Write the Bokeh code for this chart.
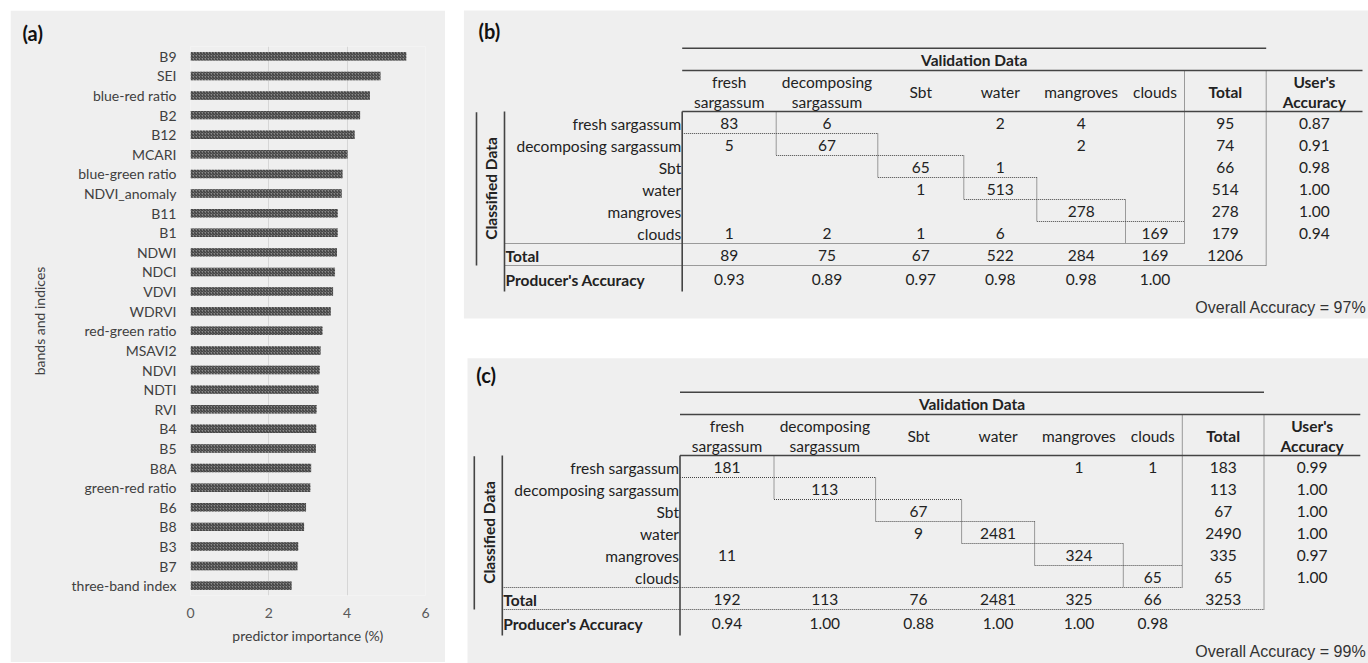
from math import pi
from bokeh.plotting import figure
from bokeh.models import FactorRange, Range1d, FixedTicker, Spacer
from bokeh.layouts import row, column
from bokeh.core.properties import value
from bokeh.embed import file_html
from bokeh.resources import INLINE

# ---------------- data: panel (a) ----------------
features = ["B9", "SEI", "blue-red ratio", "B2", "B12", "MCARI", "blue-green ratio",
            "NDVI_anomaly", "B11", "B1", "NDWI", "NDCI", "VDVI", "WDRVI",
            "red-green ratio", "MSAVI2", "NDVI", "NDTI", "RVI", "B4", "B5", "B8A",
            "green-red ratio", "B6", "B8", "B3", "B7", "three-band index"]
importance = [5.51, 4.85, 4.58, 4.33, 4.19, 4.01, 3.88, 3.86, 3.76, 3.76, 3.74, 3.69,
              3.64, 3.58, 3.37, 3.32, 3.30, 3.27, 3.22, 3.21, 3.20, 3.08, 3.06, 2.95,
              2.90, 2.75, 2.73, 2.58]
x_ticks = [0, 2, 4, 6]

# ---------------- data: confusion matrices ----------------
classes = ["fresh sargassum", "decomposing sargassum", "Sbt", "water", "mangroves", "clouds"]
col_headers = ["fresh\nsargassum", "decomposing\nsargassum", "Sbt", "water", "mangroves", "clouds"]

b_counts = [[83, 6, None, 2, 4, None],
            [5, 67, None, None, 2, None],
            [None, None, 65, 1, None, None],
            [None, None, 1, 513, None, None],
            [None, None, None, None, 278, None],
            [1, 2, 1, 6, None, 169]]
b_row_totals = [95, 74, 66, 514, 278, 179]
b_col_totals = [89, 75, 67, 522, 284, 169, 1206]
b_users = [0.87, 0.91, 0.98, 1.00, 1.00, 0.94]
b_producers = [0.93, 0.89, 0.97, 0.98, 0.98, 1.00]
b_overall = 97

c_counts = [[181, None, None, None, 1, 1],
            [None, 113, None, None, None, None],
            [None, None, 67, None, None, None],
            [None, None, 9, 2481, None, None],
            [11, None, None, None, 324, None],
            [None, None, None, None, None, 65]]
c_row_totals = [183, 113, 67, 2490, 335, 65]
c_col_totals = [192, 113, 76, 2481, 325, 66, 3253]
c_users = [0.99, 1.00, 1.00, 1.00, 0.97, 1.00]
c_producers = [0.94, 1.00, 0.88, 1.00, 1.00, 0.98]
c_overall = 99

FONT = "Lato"
PANEL = "#efefef"
TXT = "#222222"

# ---------------- panel (a): bar chart ----------------
p1 = figure(width=435, height=652,
            y_range=FactorRange(factors=features[::-1]), x_range=Range1d(0, 6),
            output_backend="svg", toolbar_location=None,
            min_border_left=180, min_border_right=20, min_border_top=36, min_border_bottom=67,
            background_fill_color=PANEL, border_fill_color=PANEL, outline_line_color=None,
            title="(a)", frame_align=False)
p1.hbar(y=features, right=importance, left=0, height=0.43,
        fill_color="#8a8a8a", line_color=None,
        hatch_pattern="/", hatch_color="#333333", hatch_scale=3.0, hatch_weight=1.0)

p1.title.text_font = FONT
p1.title.text_font_size = "20px"
p1.title.text_font_style = "bold"
p1.title.text_color = "#111111"
p1.title.align = "left"
p1.title.offset = -168
p1.title.standoff = 4

p1.xaxis.ticker = FixedTicker(ticks=x_ticks)
p1.xgrid.grid_line_color = "#d6d6d6"
p1.ygrid.grid_line_color = None
for ax in (p1.xaxis, p1.yaxis):
    ax.axis_line_color = None
    ax.major_tick_line_color = None
    ax.minor_tick_line_color = None
    ax.major_tick_out = 0
    ax.major_tick_in = 0
    ax.major_label_text_font = FONT
    ax.major_label_text_font_size = "14px"
    ax.axis_label_text_font = FONT
    ax.axis_label_text_font_size = "14px"
    ax.axis_label_text_font_style = "normal"
    ax.axis_label_text_color = "#404040"
p1.xaxis.major_label_text_color = "#595959"
p1.yaxis.major_label_text_color = "#404040"
p1.xaxis.axis_label = "predictor importance (%)"
p1.yaxis.axis_label = "bands and indices"
p1.xaxis.major_label_standoff = 12
p1.xaxis.axis_label_standoff = 6
p1.yaxis.major_label_standoff = 14
p1.yaxis.axis_label_standoff = 21

# ---------------- panels (b), (c): confusion matrices ----------------
p2 = figure(width=905, height=663, x_range=Range1d(463, 1368), y_range=Range1d(663, 0),
            output_backend="svg", toolbar_location=None, min_border=0,
            x_axis_type=None, y_axis_type=None, outline_line_color=None,
            background_fill_color="white", border_fill_color="white", frame_align=False)

p2.quad(left=[463.3, 467], right=[1368, 1368], top=[10, 357.7], bottom=[318, 663],
        fill_color=PANEL, line_color=None)

COL_EDGES = [681.7, 775.7, 877.3, 963.3, 1036.3, 1125.0, 1184.0, 1265.7, 1362.0]
ROW_EDGES = [111, 133, 155, 177, 199, 221, 243, 265, 291]
FS = "15.5px"


def put(xs, ys, texts, size=FS, align="center", bold=False, angle=0.0,
        font=FONT, color=TXT):
    p2.text(x=xs, y=ys, text=texts, angle=angle, text_align=align, text_baseline="middle",
            text_font=value(font), text_font_size=size,
            text_font_style="bold" if bold else "normal", text_color=color)


def put_header(xs, labels, y_mid, bold=False):
    one_x, one_y, one_t = [], [], []
    for x, lab in zip(xs, labels):
        parts = lab.split("\n")
        if len(parts) == 1:
            one_x.append(x); one_y.append(y_mid); one_t.append(parts[0])
        else:
            one_x += [x, x]; one_y += [y_mid - 10, y_mid + 10]; one_t += parts
    put(one_x, one_y, one_t, bold=bold)


def solid(x0, y0, x1, y1):
    p2.segment(x0=x0, y0=y0, x1=x1, y1=y1, line_color="#444444", line_width=1.6)


def dotted(x0, y0, x1, y1):
    p2.segment(x0=x0, y0=y0, x1=x1, y1=y1, line_color="#444444", line_width=1,
               line_dash="1 1")


def draw_table(dx, dy, tag, counts, row_tot, col_tot, users, producers, overall):
    ce = [c + dx for c in COL_EDGES]
    re = [r + dy for r in ROW_EDGES]
    cx = [(ce[i] + ce[i + 1]) / 2 for i in range(8)]
    ry = [(re[i] + re[i + 1]) / 2 + 1 for i in range(8)]
    inner_x = 504 + dx
    outer_x = 476 + dx

    put([478 + dx], [30 + dy], [tag], size="20px", align="left", bold=True, color="#111111")

    # header rules
    solid([ce[0], ce[0], ce[0]], [47.7 + dy, 70 + dy, re[0]],
          [ce[7], ce[8], ce[8]], [47.7 + dy, 70 + dy, re[0]])
    put([(ce[0] + ce[7]) / 2], [59.5 + dy], ["Validation Data"], bold=True)

    # column headers
    put_header(cx[:6], col_headers, 91.7 + dy)
    put_header(cx[6:8], ["Total", "User's\nAccuracy"], 91.7 + dy, bold=True)

    # row labels
    put([ce[0] - 1] * 6, ry[:6], classes, align="right")
    put([inner_x + 1] * 2, ry[6:8], ["Total", "Producer's Accuracy"], align="left", bold=True)
    put([outer_x + 14.7], [(re[0] + re[7]) / 2], ["Classified Data"], bold=True, angle=pi / 2)

    # matrix cells
    xs, ys, ts = [], [], []
    for i, r in enumerate(counts):
        for j, v in enumerate(r):
            if v is not None:
                xs.append(cx[j]); ys.append(ry[i]); ts.append(str(v))
        xs.append(cx[6]); ys.append(ry[i]); ts.append(str(row_tot[i]))
        xs.append(cx[7]); ys.append(ry[i]); ts.append("%.2f" % users[i])
    for j, v in enumerate(col_tot):
        xs.append(cx[j]); ys.append(ry[6]); ts.append(str(v))
    for j, v in enumerate(producers):
        xs.append(cx[j]); ys.append(ry[7]); ts.append("%.2f" % v)
    put(xs, ys, ts)

    # solid verticals
    solid([ce[0], inner_x, outer_x], [re[0], re[0], re[0] + 0.7],
          [ce[0], inner_x, outer_x], [re[8], re[8], re[7]])

    # dotted frame lines
    dx0, dy0, dx1, dy1 = [], [], [], []
    for (a, b_, c, d) in [(ce[6], 70 + dy, ce[6], re[6]),
                          (ce[7], 70 + dy, ce[7], re[7]),
                          (inner_x, re[6], ce[6], re[6]),
                          (inner_x, re[7], ce[7], re[7])]:
        dx0.append(a); dy0.append(b_); dx1.append(c); dy1.append(d)
    # staircase around the diagonal cells
    for i in range(5):
        dx0.append(ce[i + 1]); dy0.append(re[i]); dx1.append(ce[i + 1]); dy1.append(re[i + 2])
        dx0.append(ce[i]); dy0.append(re[i + 1]); dx1.append(ce[i + 2]); dy1.append(re[i + 1])
    dotted(dx0, dy0, dx1, dy1)

    put([1366], [307 + dy], ["Overall Accuracy = %d%%" % overall], size="16px",
        align="right", font="Liberation Sans", color="#333333")


draw_table(0, 0, "(b)", b_counts, b_row_totals, b_col_totals, b_users, b_producers, b_overall)
draw_table(-2.2, 344, "(c)", c_counts, c_row_totals, c_col_totals, c_users, c_producers, c_overall)

layout = row(Spacer(width=10, height=663),
             column(Spacer(width=435, height=10), p1),
             Spacer(width=18, height=663),
             p2)
open("out.html", "w").write(file_html(layout, INLINE))
